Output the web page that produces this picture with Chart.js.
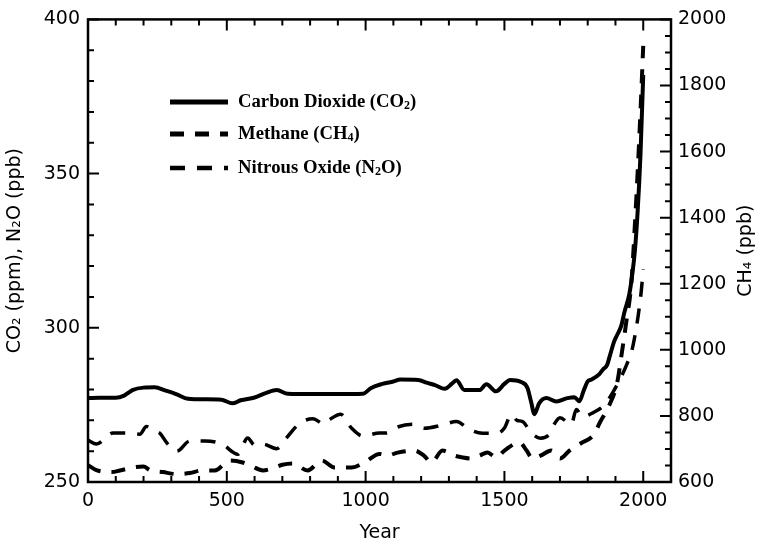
<!DOCTYPE html>
<html>
<head>
<meta charset="utf-8">
<script src="https://cdn.jsdelivr.net/npm/chart.js@4.4.1/dist/chart.umd.min.js"></script>
<style>
  html, body { margin: 0; padding: 0; background: #fff; }
  #wrap { width: 760px; height: 546px; }
</style>
</head>
<body>
<div id="wrap"><canvas id="ghgChart" width="760" height="546"></canvas></div>
<script>
// carbon dioxide, ppm (left axis)
const co2Years = [0, 40, 100, 130, 160, 200, 240, 280, 320, 360, 420, 480, 520, 550, 600, 640, 680, 720, 800, 900, 990, 1020, 1060, 1100, 1125, 1190, 1220, 1250, 1285, 1310, 1327, 1356, 1410, 1435, 1470, 1500, 1520, 1560, 1583, 1596, 1608, 1625, 1651, 1687, 1727, 1752, 1770, 1785, 1800, 1813, 1842, 1855, 1870, 1880, 1895, 1905, 1921, 1932, 1950, 1960, 1970, 1980, 1990, 2000];
const co2Ppm = [277.2, 277.3, 277.3, 278.0, 279.8, 280.6, 280.7, 279.6, 278.4, 277.0, 276.8, 276.7, 275.5, 276.5, 277.4, 278.8, 279.8, 278.6, 278.5, 278.5, 278.6, 280.5, 281.8, 282.6, 283.2, 283.1, 282.2, 281.4, 280.2, 281.8, 283.0, 279.8, 279.8, 281.7, 279.4, 281.8, 283.1, 282.4, 280.5, 276.0, 272.0, 275.5, 277.2, 276.1, 277.2, 277.5, 276.2, 279.5, 282.6, 283.2, 285.0, 286.5, 288.0, 291.0, 295.5, 297.5, 300.7, 305.0, 311.0, 317.0, 325.0, 338.0, 356.0, 382.0];

// methane, ppb (right axis)
const ch4Years = [0, 30, 86, 115, 170, 200, 223, 270, 320, 367, 410, 457, 510, 557, 590, 630, 673, 700, 738, 791, 842, 888, 950, 996, 1050, 1079, 1115, 1176, 1210, 1237, 1277, 1320, 1350, 1381, 1410, 1439, 1470, 1500, 1554, 1580, 1601, 1630, 1669, 1700, 1734, 1777, 1824, 1842, 1878, 1906, 1921, 1939, 1957, 1970, 1980, 1990, 2000];
const ch4Ppb = [651, 636, 630, 635, 645, 647, 636, 630, 624, 627, 635, 635, 665, 659, 648, 635, 644, 652, 656, 635, 665, 644, 644, 659, 685, 680, 689, 695, 680, 659, 695, 680, 674, 671, 680, 689, 674, 695, 720, 695, 671, 680, 695, 671, 695, 718, 745, 777, 833, 900, 980, 1085, 1200, 1380, 1540, 1720, 1920];

// nitrous oxide, ppb (left axis)
const n2oYears = [0, 30, 90, 140, 187, 210, 240, 259, 284, 320, 367, 421, 482, 540, 575, 600, 630, 680, 715, 762, 810, 850, 870, 910, 950, 990, 1050, 1075, 1111, 1169, 1212, 1273, 1327, 1374, 1421, 1475, 1500, 1525, 1545, 1565, 1597, 1630, 1662, 1680, 1700, 1741, 1759, 1781, 1820, 1860, 1890, 1920, 1940, 1960, 1975, 1985, 1993, 2000];
const n2oPpb = [263.6, 262.3, 265.9, 265.9, 265.5, 268.0, 266.5, 265.8, 262.7, 260.0, 263.3, 263.3, 262.3, 259.0, 264.3, 262.0, 262.3, 260.8, 264.3, 269.0, 270.5, 268.8, 270.2, 272.0, 267.4, 264.9, 265.9, 265.9, 267.7, 268.7, 267.4, 268.4, 269.6, 267.0, 265.8, 265.8, 267.5, 271.9, 270.0, 269.6, 265.9, 264.2, 265.5, 268.8, 270.8, 268.7, 273.5, 271.2, 272.5, 275.0, 279.0, 284.0, 288.0, 293.0, 300.0, 306.0, 312.0, 319.0];

// axis ticks
const yearTicks = [0, 500, 1000, 1500, 2000];
const leftTicks = [250, 300, 350, 400];
const rightTicks = [600, 800, 1000, 1200, 1400, 1600, 1800, 2000];

const axisFont = { family: 'DejaVu Sans', size: 19 };
const toXY = (xs, ys) => xs.map((x, i) => ({ x: x, y: ys[i] }));
const plain = v => String(v);

// subscript digits get drawn smaller and lowered
const SUBS = '₀₁₂₃₄₅₆₇₈₉';
function drawRich(ctx, str, x, y, size, family, weight) {
  let cx = x;
  for (const ch of str) {
    const si = SUBS.indexOf(ch);
    if (si >= 0) {
      ctx.font = weight + ' ' + Math.round(size * 0.62) + 'px ' + family;
      ctx.fillText(String(si), cx, y + size * 0.22);
      cx += ctx.measureText(String(si)).width;
    } else {
      ctx.font = weight + ' ' + size + 'px ' + family;
      ctx.fillText(ch, cx, y);
      cx += ctx.measureText(ch).width;
    }
  }
  return cx - x;
}

// box around the plot, inward tick marks, right axis title
const frameTicks = {
  id: 'frameTicks',
  afterDatasetsDraw(chart) {
    const { ctx, chartArea: a, scales } = chart;
    ctx.save();
    ctx.strokeStyle = '#000';
    ctx.lineWidth = 2;
    ctx.beginPath();
    for (let v = 0; v <= 2100; v += 100) {
      const x = scales.x.getPixelForValue(v);
      const len = v % 500 === 0 ? 11 : 6;
      ctx.moveTo(x, a.bottom); ctx.lineTo(x, a.bottom - len);
      ctx.moveTo(x, a.top); ctx.lineTo(x, a.top + len);
    }
    for (let v = 250; v <= 400; v += 10) {
      const y = scales.yL.getPixelForValue(v);
      const len = v % 50 === 0 ? 11 : 6;
      ctx.moveTo(a.left, y); ctx.lineTo(a.left + len, y);
    }
    for (let v = 600; v <= 2000; v += 50) {
      const y = scales.yR.getPixelForValue(v);
      const len = v % 200 === 0 ? 11 : 6;
      ctx.moveTo(a.right, y); ctx.lineTo(a.right - len, y);
    }
    ctx.stroke();
    ctx.lineWidth = 2.5;
    ctx.strokeRect(a.left, a.top, a.right - a.left, a.bottom - a.top);

    // CH4 title reads bottom to top
    ctx.fillStyle = '#000';
    ctx.textBaseline = 'middle';
    ctx.font = '19px DejaVu Sans';
    const t = 'CH₄ (ppb)';
    const w = ctx.measureText(t).width;
    ctx.translate(746, (a.top + a.bottom) / 2);
    ctx.rotate(-Math.PI / 2);
    ctx.textAlign = 'left';
    ctx.fillText(t, -w / 2, 0);
    ctx.restore();
  }
};

// legend drawn inside the plot area
const innerLegend = {
  id: 'innerLegend',
  afterDraw(chart) {
    const { ctx } = chart;
    ctx.save();
    ctx.fillStyle = '#000';
    ctx.strokeStyle = '#000';
    ctx.textBaseline = 'middle';
    ctx.textAlign = 'left';
    const rows = [102, 134, 168];
    chart.data.datasets.forEach((ds, i) => {
      const y = rows[i];
      ctx.lineWidth = ds.borderWidth + 1;
      ctx.setLineDash(ds.borderDash || []);
      ctx.beginPath();
      ctx.moveTo(170, y);
      ctx.lineTo(228, y);
      ctx.stroke();
      ctx.setLineDash([]);
      drawRich(ctx, ds.label, 238, y, 18.7, '"Liberation Serif"', 'bold');
    });
    ctx.restore();
  }
};

const ctx = document.getElementById('ghgChart').getContext('2d');
const chart = new Chart(ctx, {
  type: 'line',
  data: {
    datasets: [{
      label: 'Carbon Dioxide (CO₂)',
      data: toXY(co2Years, co2Ppm),
      yAxisID: 'yL',
      borderColor: '#000',
      borderWidth: 4,
      pointRadius: 0,
      cubicInterpolationMode: 'monotone'
    }, {
      label: 'Methane (CH₄)',
      data: toXY(ch4Years, ch4Ppb),
      yAxisID: 'yR',
      borderColor: '#000',
      borderWidth: 4,
      borderDash: [14, 11],
      pointRadius: 0,
      cubicInterpolationMode: 'monotone'
    }, {
      label: 'Nitrous Oxide (N₂O)',
      data: toXY(n2oYears, n2oPpb),
      yAxisID: 'yL',
      borderColor: '#000',
      borderWidth: 3.5,
      borderDash: [15, 12],
      pointRadius: 0,
      cubicInterpolationMode: 'monotone'
    }]
  },
  options: {
    responsive: false,
    animation: false,
    devicePixelRatio: 1,
    layout: { padding: { top: 8, left: 0, right: 0, bottom: 0 } },
    plugins: { legend: { display: false }, tooltip: { enabled: false } },
    elements: { line: { borderJoinStyle: 'round' } },
    scales: {
      x: {
        type: 'linear',
        min: 0,
        max: 2100,
        afterFit(s) { s.height = 64; },
        afterBuildTicks(s) { s.ticks = yearTicks.map(v => ({ value: v })); },
        grid: { display: false, drawTicks: false },
        border: { display: false },
        ticks: { font: axisFont, color: '#000', padding: 8, maxRotation: 0, callback: plain },
        title: { display: true, text: 'Year', font: axisFont, color: '#000', padding: { top: 0, bottom: 2 } }
      },
      yL: {
        position: 'left',
        min: 250,
        max: 400,
        afterFit(s) { s.width = 88; },
        afterBuildTicks(s) { s.ticks = leftTicks.map(v => ({ value: v })); },
        grid: { display: false, drawTicks: false },
        border: { display: false },
        ticks: { font: axisFont, color: '#000', padding: 8, callback: plain },
        title: { display: true, text: 'CO₂ (ppm), N₂O (ppb)', font: axisFont, color: '#000', padding: { top: 4, bottom: 0 } }
      },
      yR: {
        position: 'right',
        min: 600,
        max: 2000,
        afterFit(s) { s.width = 89; },
        afterBuildTicks(s) { s.ticks = rightTicks.map(v => ({ value: v })); },
        grid: { display: false, drawTicks: false },
        border: { display: false },
        ticks: { font: axisFont, color: '#000', padding: 7, callback: plain }
      }
    }
  },
  plugins: [frameTicks, innerLegend]
});
</script>
</body>
</html>
